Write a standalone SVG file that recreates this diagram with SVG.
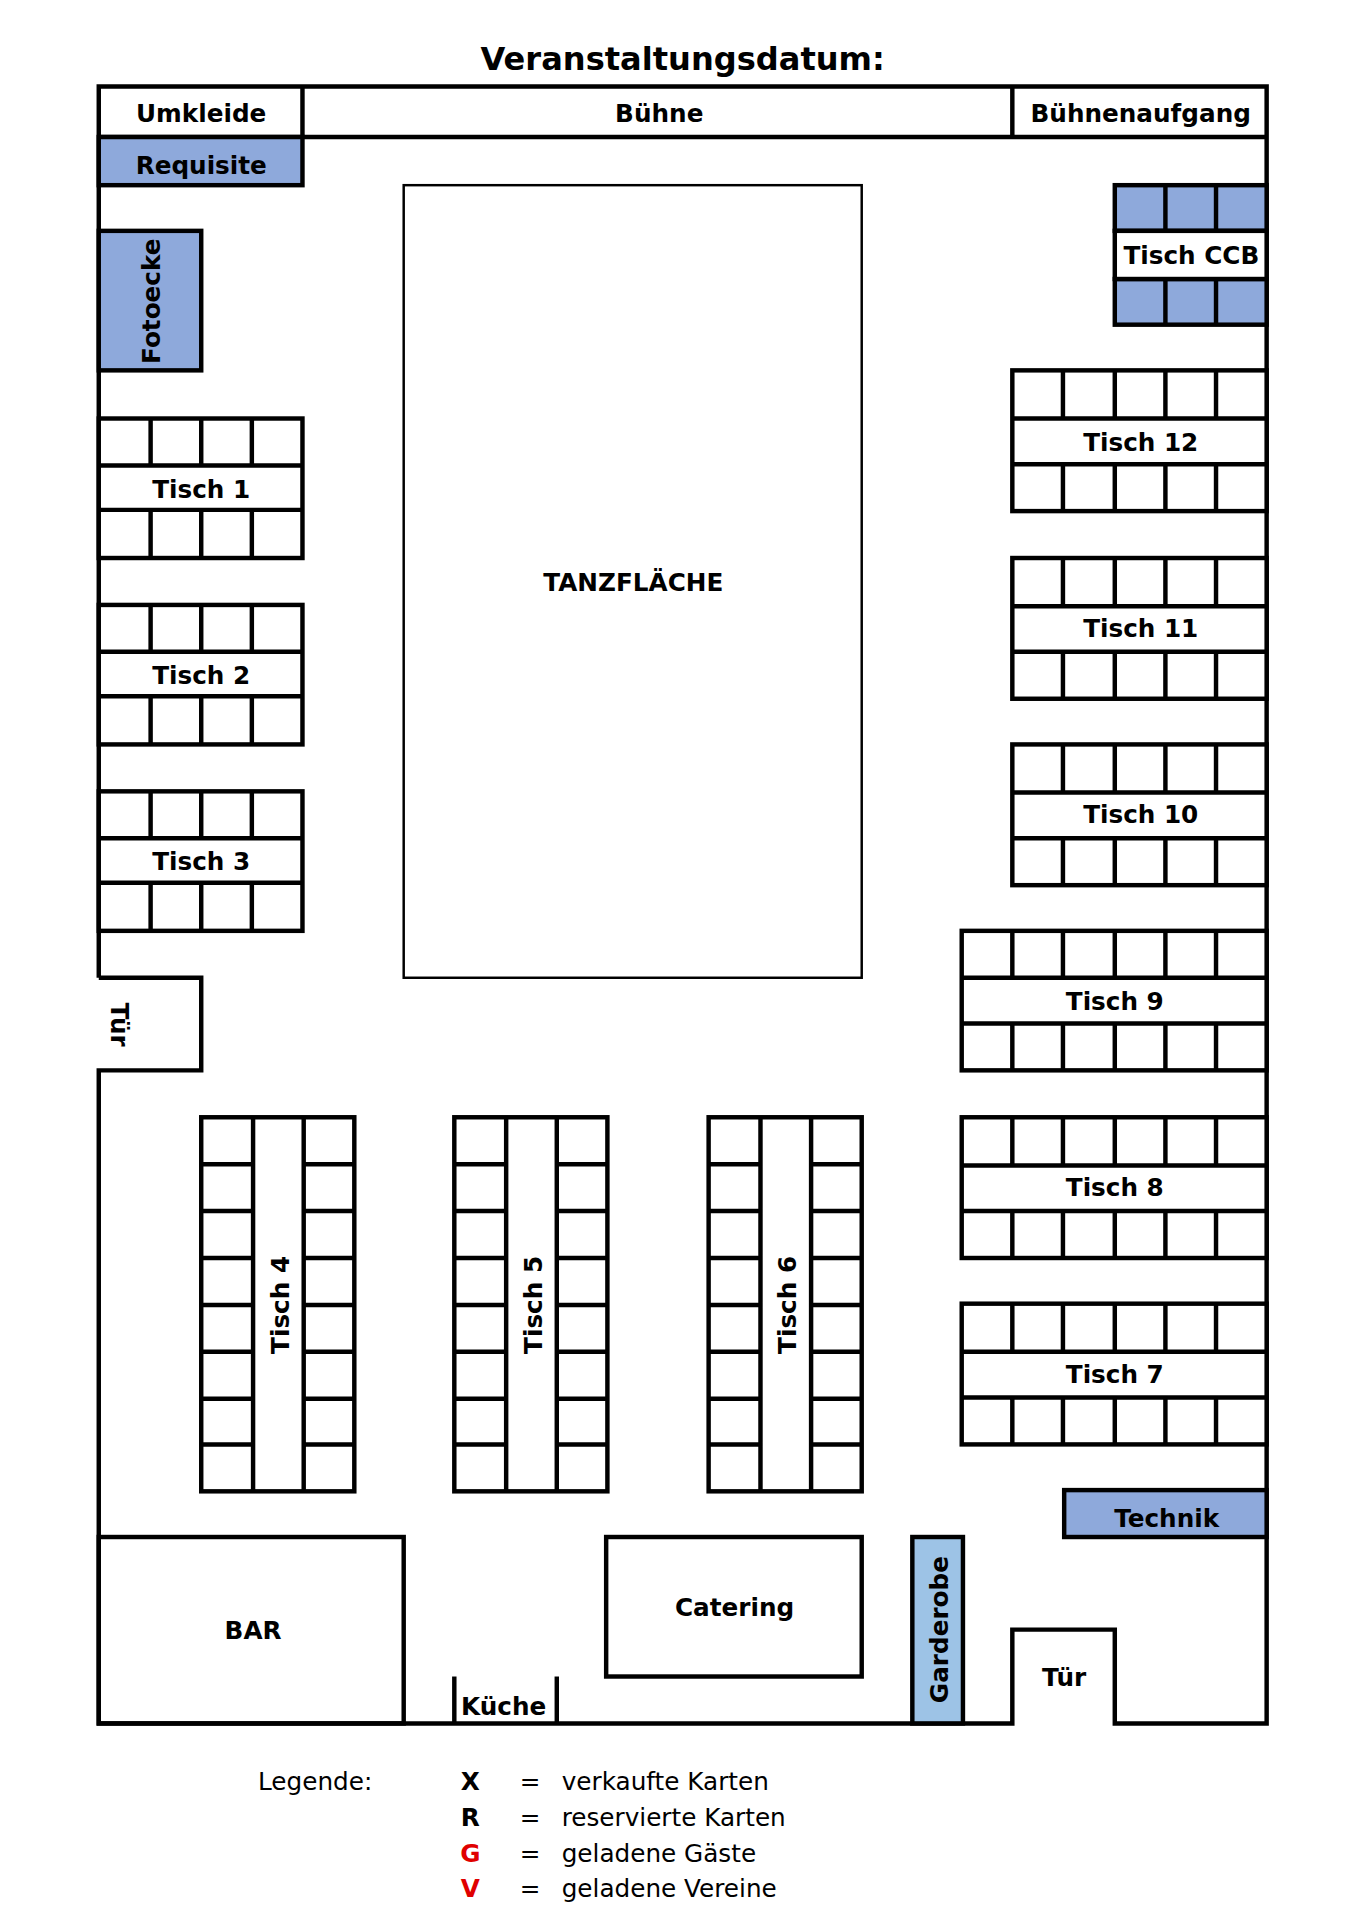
<svg xmlns="http://www.w3.org/2000/svg" width="1358" height="1920" viewBox="0 0 1358 1920">
<style>
.w{fill:none;stroke:#000;stroke-width:3.6}
.f{fill:#fff;stroke:#000;stroke-width:3.6}
.b{fill:#8EA9DB;stroke:#000;stroke-width:3.6}
.g{fill:#9DC3E6;stroke:#000;stroke-width:3.6}
.t{fill:none;stroke:#000;stroke-width:2}
text{font-family:"DejaVu Sans","Liberation Sans",sans-serif;font-weight:bold;font-size:20px;text-anchor:middle;fill:#000}
.l{font-weight:normal;text-anchor:start}
</style>
<rect width="1358" height="1920" fill="#fff"/>
<g transform="scale(1.234545)">
<text x="553" y="57" style="font-size:26px">Veranstaltungsdatum:</text>
<g id="walls">
<path class="w" d="M80,792 V70 H1026 V1396 H903 V1320 H820 V1396 H80 V867 H163 V792 H80"/>
<line class="w" x1="80" y1="111" x2="1026" y2="111"/>
<line class="w" x1="245" y1="70" x2="245" y2="111"/>
<line class="w" x1="820" y1="70" x2="820" y2="111"/>
<line class="w" x1="368" y1="1358" x2="368" y2="1396"/>
<line class="w" x1="451" y1="1358" x2="451" y2="1396"/>
</g>
<g id="umkleide"><text x="163" y="99">Umkleide</text></g>
<g id="buehne"><text x="534" y="99">Bühne</text></g>
<g id="buehnenaufgang"><text x="924" y="99">Bühnenaufgang</text></g>
<g id="requisite"><rect class="b" x="80" y="111" width="165" height="39"/><text x="163" y="141">Requisite</text></g>
<g id="fotoecke"><rect class="b" x="80" y="187" width="83" height="113"/><text transform="translate(130,244) rotate(-90)">Fotoecke</text></g>
<g id="tuer-links"><text transform="translate(90,830) rotate(90)">Tür</text></g>
<g id="tanzflaeche"><rect class="t" x="327" y="150" width="371" height="642"/><text x="513" y="479">TANZFLÄCHE</text></g>

<g id="tisch1"><rect class="f" x="80" y="339" width="165" height="113"/><path class="w" d="M80,377H245M80,413H245M122,339V377M163,339V377M204,339V377M122,413V452M163,413V452M204,413V452"/><text x="163" y="403">Tisch 1</text></g>
<g id="tisch2"><rect class="f" x="80" y="490" width="165" height="113"/><path class="w" d="M80,528H245M80,564H245M122,490V528M163,490V528M204,490V528M122,564V603M163,564V603M204,564V603"/><text x="163" y="554">Tisch 2</text></g>
<g id="tisch3"><rect class="f" x="80" y="641" width="165" height="113"/><path class="w" d="M80,679H245M80,715H245M122,641V679M163,641V679M204,641V679M122,715V754M163,715V754M204,715V754"/><text x="163" y="705">Tisch 3</text></g>

<g id="tischCCB"><rect class="b" x="903" y="150" width="123" height="37"/><rect class="b" x="903" y="226" width="123" height="37"/><rect class="f" x="903" y="187" width="123" height="39"/><path class="w" d="M944,150V187M985,150V187M944,226V263M985,226V263"/><text x="965" y="214">Tisch CCB</text></g>

<g id="tisch12"><rect class="f" x="820" y="300" width="206" height="114"/><path class="w" d="M820,339H1026M820,376H1026M861,300V339M903,300V339M944,300V339M985,300V339M861,376V414M903,376V414M944,376V414M985,376V414"/><text x="924" y="365">Tisch 12</text></g>
<g id="tisch11"><rect class="f" x="820" y="452" width="206" height="114"/><path class="w" d="M820,491H1026M820,528H1026M861,452V491M903,452V491M944,452V491M985,452V491M861,528V566M903,528V566M944,528V566M985,528V566"/><text x="924" y="516">Tisch 11</text></g>
<g id="tisch10"><rect class="f" x="820" y="603" width="206" height="114"/><path class="w" d="M820,642H1026M820,679H1026M861,603V642M903,603V642M944,603V642M985,603V642M861,679V717M903,679V717M944,679V717M985,679V717"/><text x="924" y="667">Tisch 10</text></g>
<g id="tisch9"><rect class="f" x="779" y="754" width="247" height="113"/><path class="w" d="M779,792H1026M779,829H1026M820,754V792M861,754V792M903,754V792M944,754V792M985,754V792M820,829V867M861,829V867M903,829V867M944,829V867M985,829V867"/><text x="903" y="818">Tisch 9</text></g>
<g id="tisch8"><rect class="f" x="779" y="905" width="247" height="114"/><path class="w" d="M779,944H1026M779,981H1026M820,905V944M861,905V944M903,905V944M944,905V944M985,905V944M820,981V1019M861,981V1019M903,981V1019M944,981V1019M985,981V1019"/><text x="903" y="969">Tisch 8</text></g>
<g id="tisch7"><rect class="f" x="779" y="1056" width="247" height="114"/><path class="w" d="M779,1095H1026M779,1132H1026M820,1056V1095M861,1056V1095M903,1056V1095M944,1056V1095M985,1056V1095M820,1132V1170M861,1132V1170M903,1132V1170M944,1132V1170M985,1132V1170"/><text x="903" y="1120">Tisch 7</text></g>

<g id="tisch4"><rect class="f" x="163" y="905" width="124" height="303"/><path class="w" d="M205,905V1208M246,905V1208M163,943H205M163,981H205M163,1019H205M163,1057H205M163,1095H205M163,1133H205M163,1170H205M246,943H287M246,981H287M246,1019H287M246,1057H287M246,1095H287M246,1133H287M246,1170H287"/><text transform="translate(234,1057) rotate(-90)">Tisch  4</text></g>
<g id="tisch5"><rect class="f" x="368" y="905" width="124" height="303"/><path class="w" d="M410,905V1208M451,905V1208M368,943H410M368,981H410M368,1019H410M368,1057H410M368,1095H410M368,1133H410M368,1170H410M451,943H492M451,981H492M451,1019H492M451,1057H492M451,1095H492M451,1133H492M451,1170H492"/><text transform="translate(439,1057) rotate(-90)">Tisch  5</text></g>
<g id="tisch6"><rect class="f" x="574" y="905" width="124" height="303"/><path class="w" d="M616,905V1208M657,905V1208M574,943H616M574,981H616M574,1019H616M574,1057H616M574,1095H616M574,1133H616M574,1170H616M657,943H698M657,981H698M657,1019H698M657,1057H698M657,1095H698M657,1133H698M657,1170H698"/><text transform="translate(645,1057) rotate(-90)">Tisch  6</text></g>

<g id="technik"><rect class="b" x="862" y="1207" width="164" height="38"/><text x="945" y="1237">Technik</text></g>
<g id="bar"><rect class="w" x="80" y="1245" width="247" height="151"/><text x="205" y="1328">BAR</text></g>
<g id="kueche"><text x="408" y="1389">Küche</text></g>
<g id="catering"><rect class="w" x="491" y="1245" width="207" height="113"/><text x="595" y="1309">Catering</text></g>
<g id="garderobe"><rect class="g" x="739" y="1245" width="41" height="151"/><text transform="translate(768,1320) rotate(-90)">Garderobe</text></g>
<g id="tuer-unten"><text x="862" y="1366">Tür</text></g>

<g id="legende">
<text x="209" y="1450" class="l">Legende:</text>
<text x="381" y="1450">X</text><text x="421" y="1450" class="l">=</text><text x="455" y="1450" class="l">verkaufte Karten</text>
<text x="381" y="1479">R</text><text x="421" y="1479" class="l">=</text><text x="455" y="1479" class="l">reservierte Karten</text>
<text x="381" y="1508" fill="#e00000" style="fill:#e00000">G</text><text x="421" y="1508" class="l">=</text><text x="455" y="1508" class="l">geladene Gäste</text>
<text x="381" y="1537" style="fill:#e00000">V</text><text x="421" y="1537" class="l">=</text><text x="455" y="1537" class="l">geladene Vereine</text>
</g>
</g>
</svg>
